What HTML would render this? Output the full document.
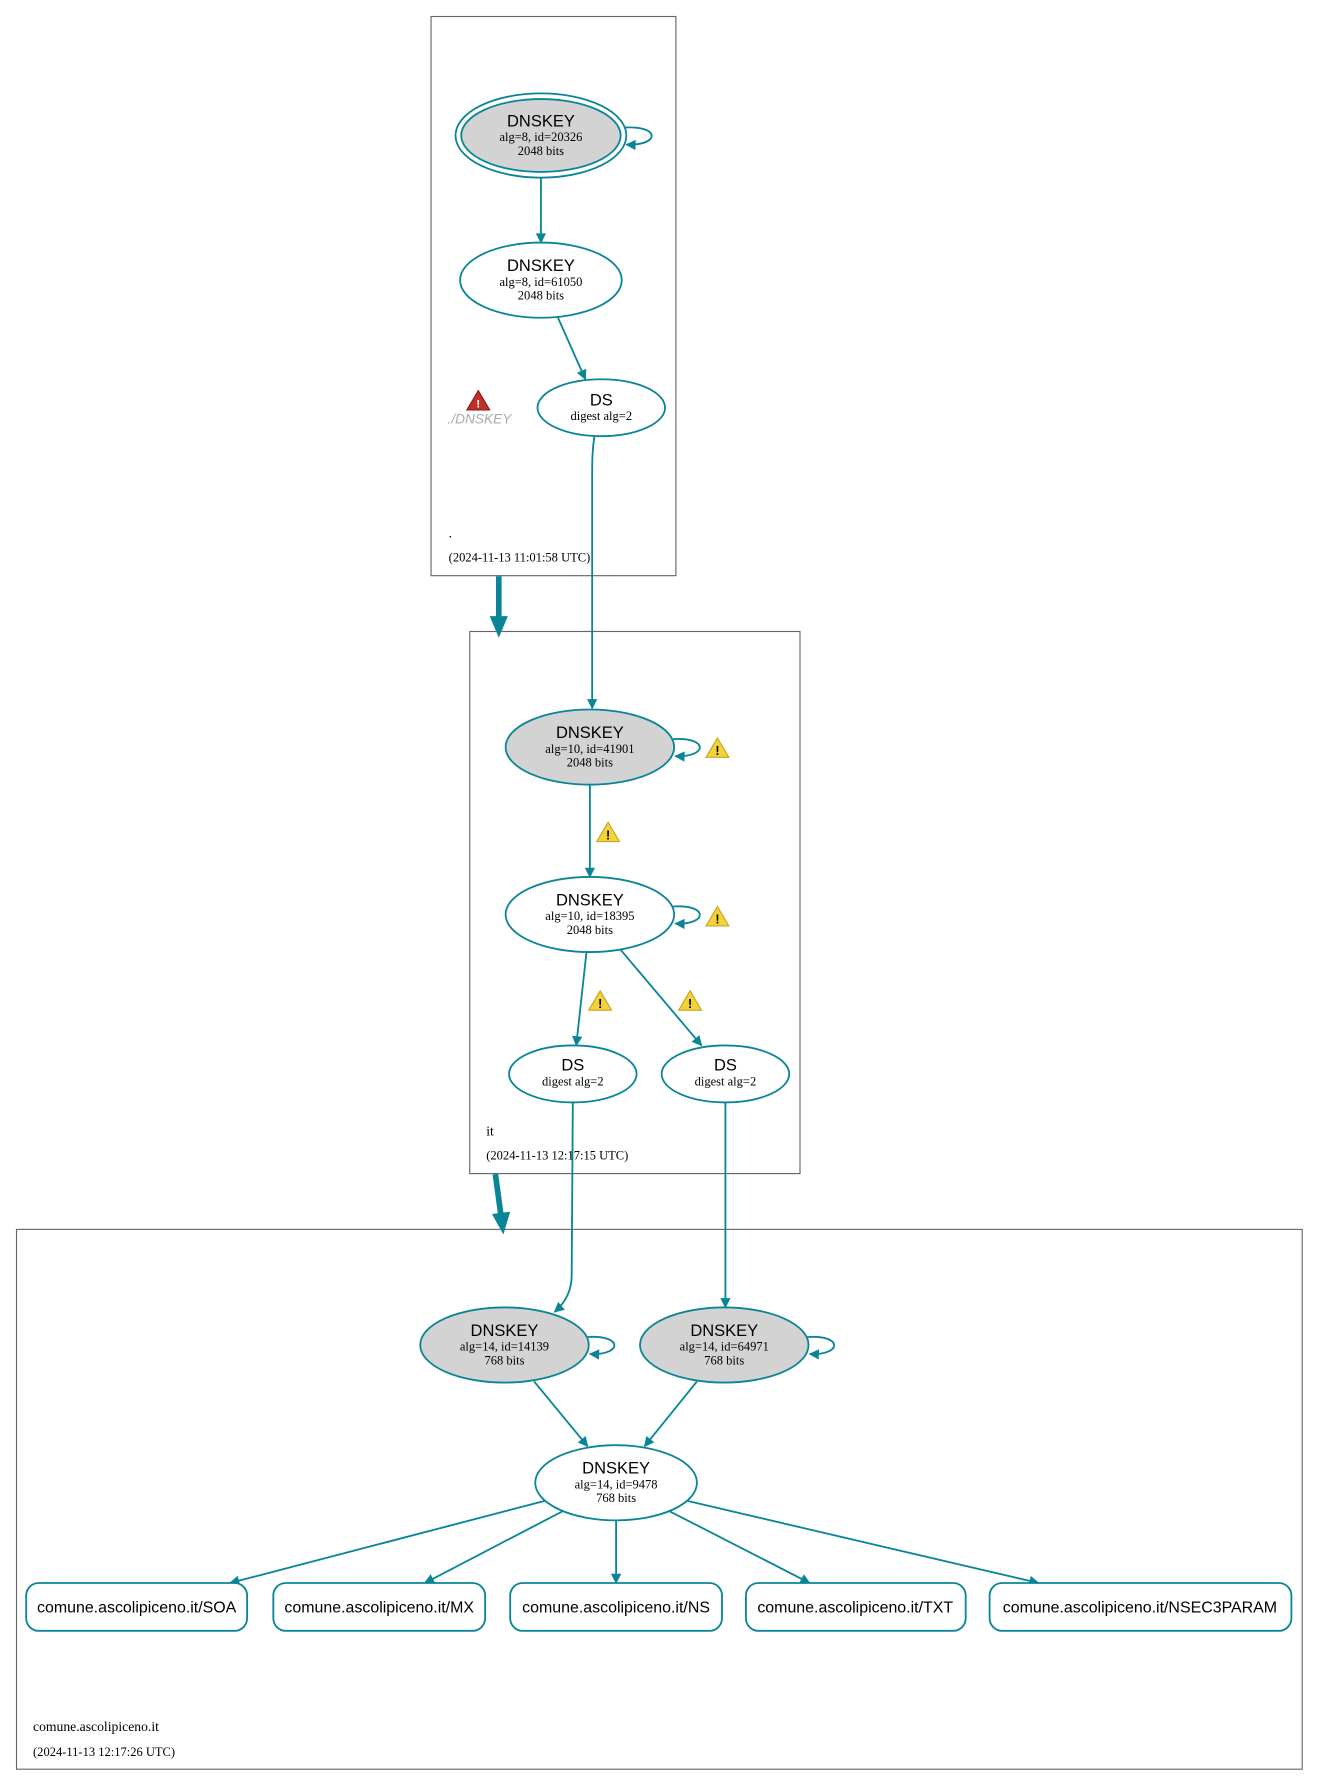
<!DOCTYPE html>
<html><head><meta charset="utf-8"><style>
html,body{margin:0;padding:0;background:#fff;}
svg{display:block;}
.t{font-family:"Liberation Sans",sans-serif;font-size:14.5px;fill:#000;text-anchor:middle;}
.r{font-family:"Liberation Sans",sans-serif;font-size:14px;fill:#000;text-anchor:middle;}
.s{font-family:"Liberation Serif",serif;font-size:11px;fill:#000;text-anchor:middle;}
.l{font-family:"Liberation Serif",serif;font-size:12px;fill:#000;}
.e{stroke:#0a8597;stroke-width:1.6;fill:none;}
.n{stroke:#0a8597;stroke-width:1.6;}
.b{fill:none;stroke:#666;stroke-width:1;}
</style></head><body>
<svg width="1321" height="1788" viewBox="0 0 1160 1570" preserveAspectRatio="none" xmlns="http://www.w3.org/2000/svg">
<defs>
<marker id="a" viewBox="0 0 10 10" refX="9" refY="5" markerWidth="11" markerHeight="9" orient="auto" markerUnits="userSpaceOnUse"><path d="M0,0 L10,5 L0,10 z" fill="#0a8597"/></marker>
<g id="w"><path d="M0,-9 L10,8 L-10,8 z" fill="#f3d23a" stroke="#c9a520" stroke-width="1"/><text x="0" y="6" font-family="Liberation Sans" font-size="11" font-weight="bold" text-anchor="middle">!</text></g>
</defs>
<rect class="b" x="378.5" y="14.5" width="215" height="491"/>
<rect class="b" x="412.5" y="554.5" width="290" height="476"/>
<rect class="b" x="14.5" y="1079.5" width="1129" height="474"/>

<g class="e">
<path d="M475,156 L475,213" marker-end="url(#a)"/>
<path d="M490,279 L514,333" marker-end="url(#a)"/>
<path d="M522,383 C520,395 520,405 520,420 L520,622" marker-end="url(#a)"/>
<path d="M518,689 L518,770" marker-end="url(#a)"/>
<path d="M515,836 L506,918" marker-end="url(#a)"/>
<path d="M545,834 L616,918" marker-end="url(#a)"/>
<path d="M503,968 L502,1120 C502,1135 495,1145 487,1152" marker-end="url(#a)"/>
<path d="M637,968 L637,1148" marker-end="url(#a)"/>
<path d="M469,1213 L516,1270" marker-end="url(#a)"/>
<path d="M612,1213 L566,1270" marker-end="url(#a)"/>
<path d="M478,1318 L202,1390" marker-end="url(#a)"/>
<path d="M494,1327 L373,1390" marker-end="url(#a)"/>
<path d="M541,1335 L541,1390" marker-end="url(#a)"/>
<path d="M588,1327 L711,1390" marker-end="url(#a)"/>
<path d="M604,1318 L912,1390" marker-end="url(#a)"/>
<path d="M548,112 C580,110 580,128 550,127" marker-end="url(#a)"/>
<path d="M591,649 C622,647 622,665 593,664" marker-end="url(#a)"/>
<path d="M591,796 C622,794 622,812 593,811" marker-end="url(#a)"/>
<path d="M516,1174 C547,1172 547,1190 518,1189" marker-end="url(#a)"/>
<path d="M709,1174 C740,1172 740,1190 711,1189" marker-end="url(#a)"/>
</g>
<path d="M438,506 L438,543" stroke="#0a8597" stroke-width="5" fill="none"/>
<path d="M430,541 L446,541 L438,560 z" fill="#0a8597"/>
<path d="M435,1031 L440,1068" stroke="#0a8597" stroke-width="5" fill="none"/>
<path d="M432,1066 L448,1064 L442,1084 z" fill="#0a8597"/>

<ellipse class="n" cx="475" cy="119" rx="75" ry="37" fill="none"/>
<ellipse class="n" cx="475" cy="119" rx="70" ry="32" fill="#d3d3d3"/>
<text class="t" x="475" y="111">DNSKEY</text><text class="s" x="475" y="124">alg=8, id=20326</text><text class="s" x="475" y="136">2048 bits</text>

<ellipse class="n" cx="475" cy="246" rx="71" ry="33" fill="#fff"/>
<text class="t" x="475" y="238">DNSKEY</text><text class="s" x="475" y="251">alg=8, id=61050</text><text class="s" x="475" y="263">2048 bits</text>

<ellipse class="n" cx="528" cy="358" rx="56" ry="25" fill="#fff"/>
<text class="t" x="528" y="356">DS</text><text class="s" x="528" y="369">digest alg=2</text>

<path d="M420,343 L430,360 L410,360 z" fill="#c0302a" stroke="#8a1a16"/>
<text x="420" y="358" font-family="Liberation Sans" font-size="10" font-weight="bold" fill="#fff" text-anchor="middle">!</text>
<text x="421" y="372" font-family="Liberation Sans" font-size="12" font-style="italic" fill="#aaa" text-anchor="middle">./DNSKEY</text>
<text class="l" x="394" y="472">.</text>
<text class="l" x="394" y="493" style="font-size:11px">(2024-11-13 11:01:58 UTC)</text>

<ellipse class="n" cx="518" cy="656" rx="74" ry="33" fill="#d3d3d3"/>
<text class="t" x="518" y="648">DNSKEY</text><text class="s" x="518" y="661">alg=10, id=41901</text><text class="s" x="518" y="673">2048 bits</text>
<ellipse class="n" cx="518" cy="803" rx="74" ry="33" fill="#fff"/>
<text class="t" x="518" y="795">DNSKEY</text><text class="s" x="518" y="808">alg=10, id=18395</text><text class="s" x="518" y="820">2048 bits</text>
<ellipse class="n" cx="503" cy="943" rx="56" ry="25" fill="#fff"/>
<text class="t" x="503" y="940">DS</text><text class="s" x="503" y="953">digest alg=2</text>
<ellipse class="n" cx="637" cy="943" rx="56" ry="25" fill="#fff"/>
<text class="t" x="637" y="940">DS</text><text class="s" x="637" y="953">digest alg=2</text>
<use href="#w" x="630" y="657"/><use href="#w" x="534" y="731"/><use href="#w" x="630" y="805"/><use href="#w" x="527" y="879"/><use href="#w" x="606" y="879"/>
<text class="l" x="427" y="997">it</text>
<text class="l" x="427" y="1018" style="font-size:11px">(2024-11-13 12:17:15 UTC)</text>

<ellipse class="n" cx="443" cy="1181" rx="74" ry="33" fill="#d3d3d3"/>
<text class="t" x="443" y="1173">DNSKEY</text><text class="s" x="443" y="1186">alg=14, id=14139</text><text class="s" x="443" y="1198">768 bits</text>
<ellipse class="n" cx="636" cy="1181" rx="74" ry="33" fill="#d3d3d3"/>
<text class="t" x="636" y="1173">DNSKEY</text><text class="s" x="636" y="1186">alg=14, id=64971</text><text class="s" x="636" y="1198">768 bits</text>
<ellipse class="n" cx="541" cy="1302" rx="71" ry="33" fill="#fff"/>
<text class="t" x="541" y="1294">DNSKEY</text><text class="s" x="541" y="1307">alg=14, id=9478</text><text class="s" x="541" y="1319">768 bits</text>

<g fill="#fff">
<rect class="n" x="23" y="1390" width="194" height="42" rx="11"/>
<rect class="n" x="240" y="1390" width="186" height="42" rx="11"/>
<rect class="n" x="448" y="1390" width="186" height="42" rx="11"/>
<rect class="n" x="655" y="1390" width="193" height="42" rx="11"/>
<rect class="n" x="869" y="1390" width="265" height="42" rx="11"/>
</g>
<text class="r" x="120" y="1416">comune.ascolipiceno.it/SOA</text>
<text class="r" x="333" y="1416">comune.ascolipiceno.it/MX</text>
<text class="r" x="541" y="1416">comune.ascolipiceno.it/NS</text>
<text class="r" x="751" y="1416">comune.ascolipiceno.it/TXT</text>
<text class="r" x="1001" y="1416">comune.ascolipiceno.it/NSEC3PARAM</text>
<text class="l" x="29" y="1520">comune.ascolipiceno.it</text>
<text class="l" x="29" y="1542" style="font-size:11px">(2024-11-13 12:17:26 UTC)</text>
</svg>
</body></html>
